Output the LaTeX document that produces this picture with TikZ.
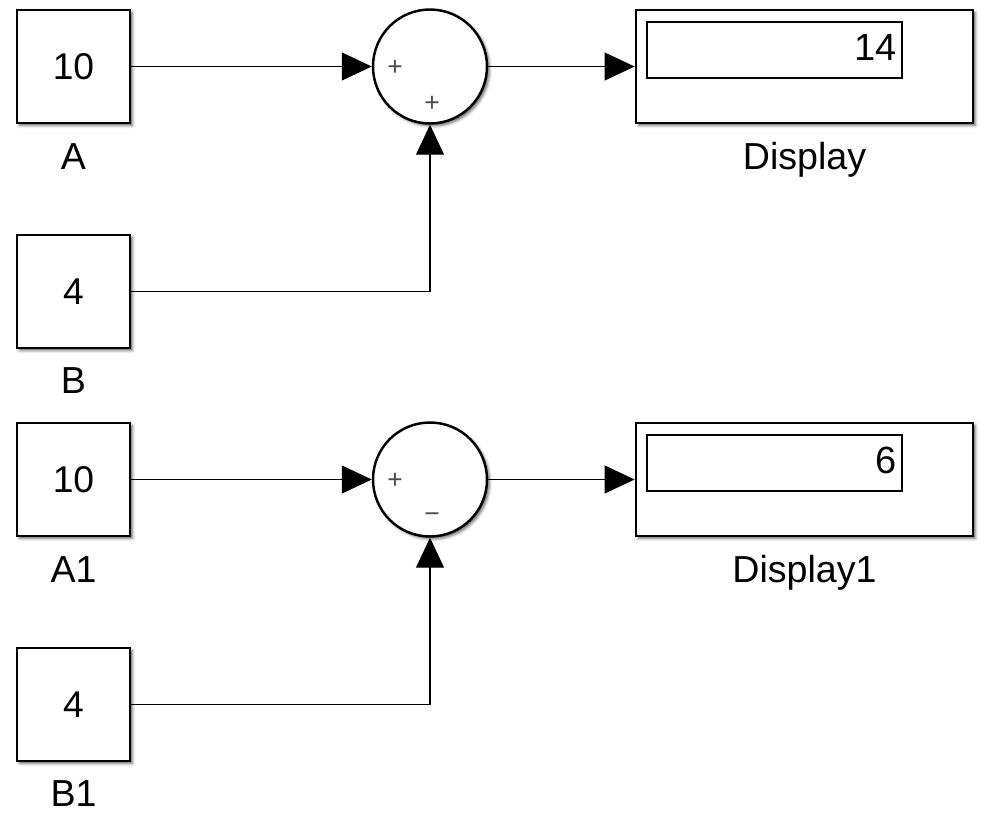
\documentclass[tikz,border=0pt]{standalone}
\usepackage{fontspec}
\setmainfont{Liberation Sans}
\usetikzlibrary{arrows.meta,shadows.blur}
\tikzset{
  shd/.style={blur shadow={shadow xshift=0.7pt, shadow yshift=-0.7pt, shadow blur radius=0.8pt, shadow opacity=60}},
  blk/.style={draw=black, line width=0.8pt, fill=white, minimum width=11.3mm, minimum height=11.3mm,
              inner sep=0pt, font=\fontsize{10.6}{12}\selectfont, shd},
  sumblk/.style={circle, draw=black, line width=0.7pt, fill=white, minimum size=11.4mm, inner sep=0pt, shd},
  dispblk/.style={blk, minimum width=33.7mm, minimum height=11.3mm},
  dispwin/.style={draw=black, line width=0.35pt, fill=white, minimum width=25.5mm, minimum height=5.6mm, inner sep=0pt},
  dispval/.style={font=\fontsize{10.8}{12}\selectfont, inner sep=0pt},
  lbl/.style={font=\fontsize{10.7}{12}\selectfont, inner sep=0pt, anchor=base},
  sgn/.style={font=\fontsize{7.5}{8}\selectfont, text=black!70, inner sep=0pt},
  sig/.style={draw=black, line width=0.3pt, -{Triangle[length=3mm,width=2.8mm]}},
}
\begin{document}
\begin{tikzpicture}[x=0.1mm,y=-0.1mm]
\useasboundingbox (0,0) rectangle (1000,813);

% ---- upper model: A + B ----
\node[blk] (a) at (73.5,66.5) {10};
\node[lbl] (alab) at (73.5,169) {A};
\node[blk] (b) at (73.5,291.5) {4};
\node[lbl] (blab) at (73.5,393) {B};
\node[sumblk] (s1) at (430,66.5) {};
\node[sgn] (s1p1) at (395,68) {+};
\node[sgn] (s1p2) at (432,104) {+};
\node[dispblk] (d1) at (804.5,66.5) {};
\node[dispwin] (d1w) at (774.5,50) {};
\node[dispval, anchor=base east] (d1v) at (897,60) {14};
\node[lbl] (d1lab) at (804.5,169) {Display};

\draw[sig] (a.east) -- (s1.west);
\draw[sig] (b.east) -| (s1.south);
\draw[sig] (s1.east) -- (d1.west);

% ---- lower model: A1 - B1 ----
\node[blk] (a1) at (73.5,479.5) {10};
\node[lbl] (a1lab) at (73.5,582) {A1};
\node[blk] (b1) at (73.5,704.5) {4};
\node[lbl] (b1lab) at (73.5,806) {B1};
\node[sumblk] (s2) at (430,479.5) {};
\node[sgn] (s2p1) at (395,481) {+};
\node[sgn] (s2m) at (432,518) {−};
\node[dispblk] (d2) at (804.5,479.5) {};
\node[dispwin] (d2w) at (774.5,463) {};
\node[dispval, anchor=base east] (d2v) at (897,473) {6};
\node[lbl] (d2lab) at (804.5,582) {Display1};

\draw[sig] (a1.east) -- (s2.west);
\draw[sig] (b1.east) -| (s2.south);
\draw[sig] (s2.east) -- (d2.west);
\end{tikzpicture}
\end{document}
